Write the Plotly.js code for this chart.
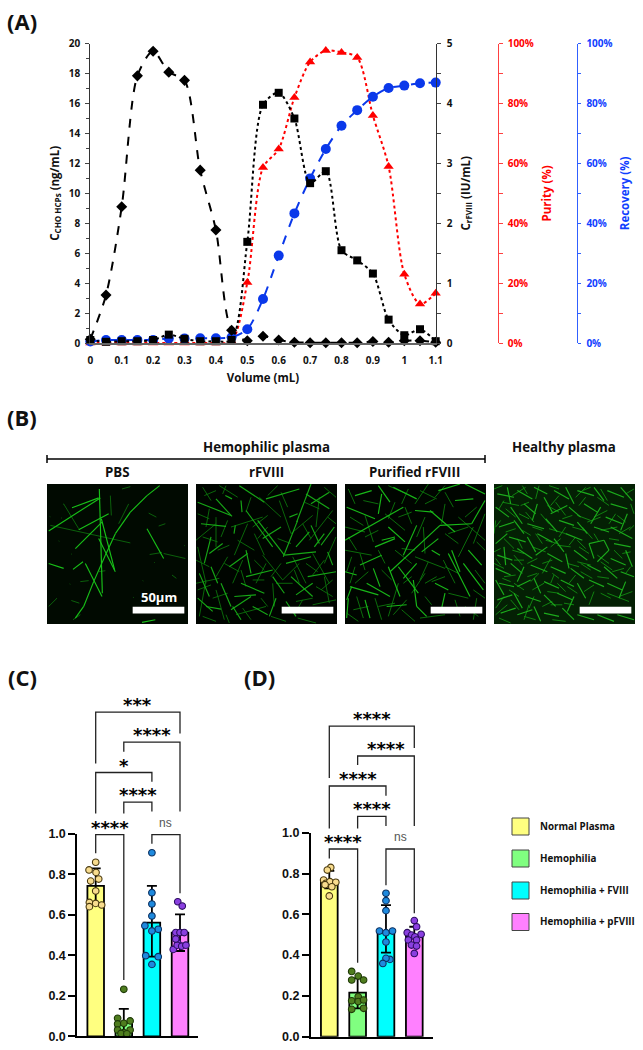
<!DOCTYPE html>
<html><head><meta charset="utf-8">
<script src="https://cdn.plot.ly/plotly-3.0.1.min.js"></script>
<style>html,body{margin:0;padding:0;background:#fff}#c{width:643px;height:1050px}</style>
</head><body><div id="c"></div>
<script>
// ---------- Panel A data ----------
const volume=[0,0.05,0.1,0.15,0.2,0.25,0.3,0.35,0.4,0.45,0.5,0.55,0.6,0.65,0.7,0.75,0.8,0.85,0.9,0.95,1,1.05,1.1];
const volumeTicks=[0,0.1,0.2,0.3,0.4,0.5,0.6,0.7,0.8,0.9,1,1.1];
const hcp=[0.25,3.2,9.1,17.85,19.5,18.1,17.55,11.55,7.55,0.85,0.15,0.45,0.2,0.05,0.02,0.02,0.02,0.02,0.1,0.05,0.15,0.15,0.05];
const rfviii=[0.05,0.02,0.03,0.03,0.05,0.14,0.07,0.03,0.03,0.05,1.69,3.98,4.18,3.75,2.67,2.87,1.55,1.38,1.16,0.39,0.13,0.23,0.03];
const purity=[0,0,0,0,0,0,0,0,0,0.5,20.2,58.6,64.8,82,93.9,97.7,97.1,95.4,76,59,23,13,16.6];
const recovery=[0.5,1,1,1,1,1.5,1.5,1.6,1.6,1.9,4.6,14.7,29.2,43.3,55,64.8,72.6,77.8,82.3,85.2,86,86.8,87];

// ---------- Panels C / D data ----------
const groups=['Normal Plasma','Hemophilia','Hemophilia + FVIII','Hemophilia + pFVIII'];
const barColors=['#ffff80','#80ff80','#00ffff','#ff80ff'];
const dotColors=['#f8dc8e','#4f7d1f','#1f8ade','#8a3fe0'];
const dotLines=['#4a3a10','#1f3a08','#0c3060','#2c0e60'];
const cMeans=[0.742,0.067,0.561,0.511], cUp=[0.087,0.068,0.181,0.091], cDn=[0.091,0.067,0.168,0.09];
const dMeans=[0.765,0.216,0.51,0.493], dUp=[0.048,0.07,0.135,0.046], dDn=[0.038,0.077,0.098,0.044];
const cVals=[
 [0.859,0.821,0.809,0.766,0.776,0.717,0.661,0.640,0.656,0.648],
 [0.232,0.089,0.076,0.061,0.064,0.031,0.018,0.031,0.014,0.012],
 [0.906,0.709,0.653,0.594,0.546,0.528,0.398,0.393,0.355,0.52],
 [0.664,0.643,0.512,0.512,0.512,0.46,0.429,0.45,0.445,0.45,0.48]];
const cOffs=[
 [0,-0.237,0.012,-0.178,0.107,0,-0.225,-0.225,0,0.213],
 [0,-0.22,0.225,-0.22,0,-0.22,0,0.225,-0.1,0.11],
 [0,0,0,0,-0.25,0.225,-0.22,0.225,0,0],
 [-0.08,0.08,-0.15,0,0.15,-0.08,-0.24,-0.1,0.06,0.21,-0.15]];
const dVals=[
 [0.83,0.817,0.768,0.752,0.76,0.757,0.745,0.735,0.69],
 [0.32,0.297,0.278,0.278,0.196,0.176,0.172,0.18,0.134,0.139],
 [0.703,0.667,0.618,0.518,0.51,0.518,0.464,0.379,0.384,0.359],
 [0.569,0.539,0.51,0.498,0.502,0.49,0.474,0.474,0.449,0.444,0.408]];
const dOffs=[
 [0.05,-0.07,-0.2,-0.12,0.02,0.23,-0.15,0.09,0],
 [-0.21,0.02,-0.21,0.21,0.02,-0.21,0.02,0.21,-0.21,0.21],
 [0,0,0,-0.23,0,0.23,0,0.14,0,-0.11],
 [0,0.08,-0.25,-0.1,0.24,0.02,-0.21,0.08,-0.1,0.08,0]];
// [from group, to group, bracket level, left leg end, right leg end, label]
const cBrackets=[
 [0,3,1.6,1.347,1.495,'***'],[1,3,1.452,1.405,1.109,'****'],[0,2,1.302,1.1,1.257,'*'],
 [1,2,1.156,1.1,1.109,'****'],[0,1,0.995,0.903,0.278,'****'],[2,3,0.995,0.95,0.706,'ns']];
const dBrackets=[
 [0,3,1.522,1.268,1.415,'****'],[1,3,1.376,1.332,1.033,'****'],[0,2,1.229,1.02,1.181,'****'],
 [1,2,1.08,1.02,1.033,'****'],[0,1,0.92,0.874,0.362,'****'],[2,3,0.92,0.743,0.605,'ns']];

// ---------- Panel B fibres ----------
const panelTitles=['PBS','rFVIII','Purified rFVIII'];
const pbsBright=[[338,5,300,35],[300,35,250,85],[250,85,205,150],[205,150,175,215],[175,215,140,295],[140,295,110,370],[110,370,85,405],
 [157,15,166,330],[5,142,160,42],[95,138,185,90],[85,195,165,115],[155,165,205,265],[115,240,165,340],[300,135,350,225],[5,240,50,255],[78,258,108,235],[75,72,155,42],[285,418,325,410],[163,105,203,260]];
const pbsDim=[[10,125,250,178],[305,88,328,100],[335,127,355,120],[308,213,345,207],[73,352,97,360],[5,370,30,345],[78,410,100,395],[190,35,193,95],[225,15,250,8],[215,120,245,60],[50,60,95,135],[100,295,125,292],[155,265,175,262],[350,210,415,225],[375,275,388,285],
 [8,98,10,99],[42,102,44,103],[72,211,74,212],[35,172,37,173],[48,60,50,61],[258,342,260,343],[287,292,289,293],[322,237,324,238],[412,186,414,187],[68,302,70,303]];
const rfBright=[[5,55,105,95],[60,45,108,98],[88,35,108,45],[130,5,205,55],[210,45,310,15],[135,50,138,85],[118,125,114,150],[15,120,90,128],[150,80,230,190],[185,110,265,215],[305,110,262,220],[345,0,302,115],[200,165,255,130],[340,145,300,190],[265,215,360,205],[270,240,345,220],[150,200,165,270],[100,250,155,210],[135,300,205,330],[150,280,230,260],[45,160,25,240],[80,180,40,210],[115,340,180,335],[105,380,165,340],[30,370,75,378],[5,345,50,385],[230,280,265,330],[240,345,220,400],[170,370,215,395],[10,270,40,340],[45,250,65,300],[75,300,105,370],[280,100,305,90],[345,125,370,180],[385,150,355,190],[375,185,415,130],[345,60,400,25],[330,30,400,75],[395,205,410,245],[285,280,350,340],[335,280,420,265],[300,335,350,300],[110,370,135,410],[270,355,300,400]];
const rfDim=[[0,170,60,120],[60,100,60,190],[25,35,60,20],[90,5,80,30],[105,130,200,100],[250,50,285,150],[190,40,255,100],[175,150,205,215],[5,190,30,300],[0,300,70,285],[30,290,10,400],[95,220,60,280],[200,215,260,290],[210,240,180,300],[290,220,330,300],[350,210,400,300],[230,300,235,370],[285,150,350,95],[370,40,360,130],[410,80,340,170],[385,280,400,360],[60,320,85,410],[120,395,210,370],[300,355,350,345],[155,120,115,215],[215,95,170,130],[420,160,385,240],[310,240,260,290],[140,230,110,300],
 [20,10,45,50],[70,5,125,40],[165,40,150,85],[245,5,215,35],[255,25,275,70],[325,55,370,75],[385,10,420,40],[395,100,420,120],[5,90,40,105],[40,75,30,130],[95,110,75,160],[125,170,175,200],[215,130,185,165],[245,165,285,180],[320,120,345,165],[20,160,65,175],[65,200,100,185],[0,230,40,250],[85,240,130,265],[175,230,205,260],[255,240,225,280],[330,240,365,265],[385,230,350,275],[410,290,375,320],[5,320,45,305],[50,345,95,330],[135,260,150,310],[170,290,205,290],[240,300,290,300],[295,260,310,300],[360,310,410,340],[320,350,295,395],[350,365,420,350],[195,345,215,370],[140,375,165,410],[20,400,60,415],[90,395,100,420],[225,400,270,415],[305,405,360,420]];
const puBright=[[0,170,175,70],[210,80,265,85],[215,125,175,215],[420,50,380,120],[380,120,285,125],[285,125,135,265],[255,80,330,145],[160,250,220,330],[215,240,175,285],[5,70,90,105],[90,190,150,165],[45,245,110,215],[15,310,100,335],[0,265,35,275],[100,5,135,55],[145,10,215,45],[30,35,80,20],[110,30,100,90],[320,200,345,265],[370,200,410,245],[270,300,310,320],[300,330,290,375],[130,250,165,340],[65,300,135,340],[10,345,5,405],[20,310,5,350],[60,350,75,405],[205,290,215,370],[215,370,245,400],[280,20,345,0],[130,130,180,175],[110,170,150,160],[330,50,385,45],[360,0,420,30],[355,240,415,320],[310,210,375,340],[125,370,185,365],[260,200,285,215],[230,205,280,165],[85,255,105,310]];
const puDim=[[0,130,60,145],[60,95,85,175],[0,200,80,215],[45,210,60,260],[120,90,180,140],[180,70,200,120],[300,60,290,120],[340,100,420,170],[250,0,210,60],[385,130,340,220],[235,130,240,210],[295,230,330,300],[100,370,150,360],[240,270,200,330],[160,300,130,400],[25,380,70,370],[390,260,420,300],[360,370,400,400],[300,280,260,295],[30,250,15,300],[170,380,210,415],[150,200,200,240],[210,220,300,255],[310,150,370,130],[420,90,385,180],
 [10,15,30,60],[55,50,100,60],[150,55,130,105],[190,15,170,60],[225,20,275,45],[300,25,325,70],[395,70,360,100],[15,100,55,125],[60,160,100,140],[160,100,200,85],[240,100,215,160],[300,150,340,180],[395,175,420,200],[10,160,35,200],[100,200,120,240],[170,195,210,200],[250,235,225,290],[340,270,300,250],[385,320,420,345],[20,220,5,265],[70,265,30,300],[110,260,140,290],[175,300,200,280],[240,300,275,280],[310,330,370,345],[330,350,345,400],[35,340,55,405],[90,345,110,410],[185,350,145,395],[240,340,260,365],[395,345,385,410],[5,390,40,415],[225,405,300,395],[130,5,185,30],[300,5,270,40],[270,45,240,60]];
const hlBright=[[10,30,60,40],[40,10,50,60],[70,20,115,45],[120,10,160,30],[150,40,175,85],[180,20,225,45],[215,10,240,60],[250,20,300,35],[300,10,330,50],[340,20,390,40],[380,10,415,50],[350,60,400,75],
 [5,70,45,100],[50,70,85,120],[90,60,125,90],[130,60,115,110],[170,90,220,65],[225,70,260,100],[270,60,310,85],[320,70,290,120],[335,100,385,120],[400,90,380,140],
 [15,130,60,115],[60,110,90,150],[100,120,150,135],[155,105,190,145],[195,110,240,125],[250,115,280,150],[300,130,345,145],[350,130,415,165],
 [5,180,40,150],[45,160,95,175],[100,160,125,205],[130,150,175,175],[180,165,210,205],[215,150,265,170],[285,180,330,170],[330,170,345,200],[345,200,310,235],[285,180,300,225],[360,180,410,190],
 [10,215,55,230],[30,190,35,245],[70,195,115,225],[125,215,160,190],[160,210,205,235],[215,210,225,255],[240,200,280,230],[350,225,395,245],[395,200,415,250],
 [5,255,50,275],[50,240,85,270],[90,250,70,295],[110,245,160,265],[170,250,215,270],[230,255,270,285],[280,245,320,265],[330,250,370,285],[380,265,420,280],
 [15,300,60,310],[5,290,30,335],[70,310,110,290],[120,285,140,330],[150,295,195,315],[200,290,240,310],[250,300,275,345],[285,290,330,310],[340,300,385,320],[395,295,375,345],
 [10,350,55,335],[60,330,85,375],[95,340,140,355],[150,335,185,370],[190,330,235,350],[240,340,220,385],[20,390,65,375],[70,395,115,380],[120,370,140,415],[150,390,195,400],[205,375,240,410],[250,395,300,410],[310,395,360,415],[370,395,420,410]];
const hlDim=[[25,55,75,65],[55,35,95,10],[125,45,135,5],[185,55,215,95],[245,40,275,10],[340,50,320,15],[395,30,420,15],[20,110,5,130],[75,90,105,105],[140,90,165,120],[235,95,205,105],[300,100,340,80],[365,90,345,120],[30,165,60,195],[85,140,110,155],[165,135,215,150],[265,130,295,165],[375,150,410,130],[60,215,85,245],[130,225,100,240],[190,185,230,190],[250,170,275,195],[360,200,385,225],[20,245,5,225],[145,240,175,230],[250,235,290,245],[310,215,345,240],[25,285,50,295],[100,280,130,270],[180,275,170,300],[260,265,295,285],[355,265,390,255],[45,320,75,340],[160,325,195,330],[220,310,250,330],[300,325,285,365],[340,330,405,355],[40,365,5,395],[105,365,90,410],[170,365,205,365],
 [0,15,25,5],[85,5,100,30],[165,5,195,15],[275,40,255,65],[310,40,345,65],[410,60,420,90],[30,50,15,75],[105,55,80,65],[195,35,170,65],[290,10,265,20],[65,100,35,75],[120,115,95,85],[160,65,195,85],[250,95,290,110],[370,95,395,115],[5,110,0,150],[65,135,35,145],[145,140,115,130],[215,130,195,160],[235,130,270,140],[280,115,320,100],[320,140,370,130],[405,140,420,125],[70,165,85,195],[145,180,125,150],[190,180,155,170],[225,185,245,160],[300,150,315,175],[375,170,345,165],[0,205,20,195],[55,200,90,210],[115,190,155,205],[170,190,200,165],[255,190,285,210],[385,210,410,205],[320,235,355,260],[0,240,30,255],[90,230,60,230],[170,225,145,270],[220,240,255,250],[290,260,260,240],[410,250,395,270],[30,280,65,275],[135,270,110,295],[195,285,175,270],[245,275,225,300],[345,285,310,280],[60,300,90,320],[115,320,150,300],[215,325,190,300],[270,325,300,305],[320,330,350,345],[375,340,415,325],[30,340,5,375],[75,380,50,350],[120,340,105,375],[175,355,145,370],[210,360,240,365],[15,405,50,420],[90,400,125,410],[175,410,215,415]];
const scaleBar=[257,412,371,391];

// ---------- helpers ----------
const W=643,H=1050;
const dx=(a,b)=>[a/W,b/W];
const dy=(top,bot)=>[1-bot/H,1-top/H];
const px=x=>x/W, py=y=>1-y/H;
const F='"Open Sans", "Noto Sans", sans-serif', AR='"Liberation Sans", Arial, sans-serif';
const traces=[],shapes=[],ann=[];
function segs(list){const x=[],y=[];list.forEach(s=>{x.push(s[0],s[2],null);y.push(s[1],s[3],null);});return {x,y};}

// ---------- Panel A ----------
function lineTrace(y,ya,col,dash,sym,size,name){
 traces.push({type:'scatter',mode:'lines+markers',name,x:volume,y,xaxis:'x',yaxis:ya,cliponaxis:false,
  line:{color:col,dash,width:2,shape:'spline',smoothing:0.8},marker:{symbol:sym,size,color:col},hoverinfo:'skip'});
}
lineTrace(purity,'y','#ff0000','dot','triangle-up',9,'Purity');
lineTrace(recovery,'y2','#0a38ea','dash','circle',10,'Recovery');
lineTrace(hcp,'y3','#000','dash','diamond',8.5,'CHO HCPs');
lineTrace(rfviii,'y4','#000','dot','square',8,'rFVIII');
const tfA={family:F,size:10,color:'#111',weight:700};
const layout={width:W,height:H,margin:{l:0,r:0,t:0,b:0,pad:0},paper_bgcolor:'#fff',plot_bgcolor:'rgba(0,0,0,0)',showlegend:false,font:{family:F,color:'#111'},
 xaxis:{domain:dx(90.3,435.7),range:[0,1.1],anchor:'y',tickvals:volumeTicks,ticktext:volumeTicks.map(String),ticks:'',ticklabelstandoff:7,tickfont:tfA,showgrid:false,zeroline:false,showline:true,linecolor:'#666',linewidth:1.5,
  title:{text:'Volume (mL)',standoff:8,font:{family:F,size:11.5,weight:700,color:'#111'}}},
 yaxis:{domain:dy(43.7,343),range:[0,100],anchor:'free',position:498/W,side:'right',tickvals:[0,20,40,60,80,100],ticktext:['0%','20%','40%','60%','80%','100%'],ticks:'outside',ticklen:3.5,tickwidth:1,tickcolor:'#ff4040',ticklabelstandoff:3,minor:{dtick:10,ticks:'outside',ticklen:3.5,tickcolor:'#ff4040',tickwidth:1},
  showgrid:false,zeroline:false,showline:true,linecolor:'#ff4040',linewidth:1.2,tickfont:{family:F,size:10,color:'#ff0000',weight:700},
  title:{text:'Purity (%)',standoff:10,font:{family:F,size:11.5,weight:700,color:'#ff0000'}}},
 yaxis2:{domain:dy(43.7,343),range:[0,100],overlaying:'y',anchor:'free',position:576.7/W,side:'right',tickvals:[0,20,40,60,80,100],ticktext:['0%','20%','40%','60%','80%','100%'],ticks:'outside',ticklen:3.5,tickwidth:1,tickcolor:'#3060ff',ticklabelstandoff:3,minor:{dtick:10,ticks:'outside',ticklen:3.5,tickcolor:'#3060ff',tickwidth:1},
  showgrid:false,zeroline:false,showline:true,linecolor:'#3060ff',linewidth:1.2,tickfont:{family:F,size:10,color:'#1040ff',weight:700},
  title:{text:'Recovery (%)',standoff:9,font:{family:F,size:11.5,weight:700,color:'#1040ff'}}},
 yaxis3:{domain:dy(43.7,343),range:[0,20],overlaying:'y',anchor:'x',side:'left',dtick:2,ticks:'outside',ticklen:3.5,tickwidth:1,tickcolor:'#444',ticklabelstandoff:3,minor:{dtick:1,ticks:'outside',ticklen:2.5,tickcolor:'#444',tickwidth:1},
  showgrid:false,zeroline:false,showline:true,linecolor:'#333',linewidth:1.5,tickfont:tfA,
  title:{text:'C<sub>CHO HCPs</sub> (ng/mL)',standoff:7,font:{family:F,size:11.5,weight:700,color:'#111'}}},
 yaxis4:{domain:dy(43.7,343),range:[0,5],overlaying:'y',anchor:'x',side:'right',dtick:1,ticks:'outside',ticklen:3.5,tickwidth:1,tickcolor:'#444',ticklabelstandoff:4,minor:{dtick:0.5,ticks:'outside',ticklen:3.5,tickcolor:'#444',tickwidth:1},
  showgrid:false,zeroline:false,showline:true,linecolor:'#333',linewidth:1.5,tickfont:tfA,
  title:{text:'C<sub>rFVIII</sub> (IU/mL)',standoff:10,font:{family:F,size:11.5,weight:700,color:'#111'}}},
 shapes,annotations:ann};

// ---------- Panels C, D ----------
function barPanel(xa,ya,yb,xl,xr,xc0,xc3,y0,y1,means,up,dn,vals,offs,brackets){
 const xn=xa==='x2'?'xaxis2':'xaxis3', yn='yaxis'+ya.slice(1), bn='yaxis'+yb.slice(1);
 const step=(xc3-xc0)/3, idx=[0,1,2,3];
 const topVal=1.75, hScale=(y0-y1);
 layout[xn]={domain:dx(xl,xr),range:[(xl-xc0)/step,(xr-xc0)/step],anchor:ya,tickvals:[],showgrid:false,zeroline:false,showline:true,linecolor:'#000',linewidth:2,ticks:''};
 layout[yn]={domain:dy(y1,y0),range:[0,1],anchor:xa,tickvals:[0,0.2,0.4,0.6,0.8,1],ticktext:['0.0','0.2','0.4','0.6','0.8','1.0'],ticks:'outside',ticklen:7,tickwidth:2,tickcolor:'#000',showgrid:false,zeroline:false,showline:true,linecolor:'#000',linewidth:2,tickfont:{family:AR,size:12.5,weight:700,color:'#111'}};
 layout[bn]={domain:dy(y0-topVal*hScale,y0),range:[0,topVal],anchor:xa,visible:false,fixedrange:true};
 traces.push({type:'bar',x:idx,y:means,xaxis:xa,yaxis:ya,width:0.59,marker:{color:barColors,line:{color:'#000',width:1.8}},
  error_y:{type:'data',symmetric:false,array:up,arrayminus:dn,color:'#000',thickness:1.8,width:5},hoverinfo:'skip'});
 idx.forEach(i=>traces.push({type:'scatter',mode:'markers',x:vals[i].map((_,k)=>i+offs[i][k]),y:vals[i],xaxis:xa,yaxis:ya,cliponaxis:false,
  marker:{size:6.6,color:dotColors[i],line:{color:dotLines[i],width:1.1}},hoverinfo:'skip'}));
 brackets.forEach(b=>{
  traces.push({type:'scatter',mode:'lines',x:[b[0],b[0],b[1],b[1]],y:[b[3],b[2],b[2],b[4]],xaxis:xa,yaxis:yb,cliponaxis:false,line:{color:'#222',width:1.3},hoverinfo:'skip'});
  const ns=b[5]==='ns';
  ann.push({xref:xa,yref:yb,x:(b[0]+b[1])/2,y:b[2],text:b[5],showarrow:false,yanchor:'bottom',yshift:ns?3:-5,
   font:ns?{family:AR,size:12,color:'#555'}:{family:'"DejaVu Sans"',size:18,color:'#000',weight:700}});
 });
}
barPanel('x2','y5','y6',77.3,198,95.7,180,1036.3,833.7,cMeans,cUp,cDn,cVals,cOffs,cBrackets);
barPanel('x3','y7','y8',311,433,329.3,414.3,1036.7,832.7,dMeans,dUp,dDn,dVals,dOffs,dBrackets);

// ---------- Panel B ----------
const panelX=[47,196,345,494];
const fibres=[[pbsDim,pbsBright],[rfDim,rfBright],[puDim,puBright],[hlDim,hlBright]];
const panelBg=['#010a01','#000500','#000500','#042004'];
const dimCol=['#0c6a0c','#0b720b','#0c780c','#128c12'], brightCol=['#18c018','#16a816','#18b818','#1cab1c'];
fibres.forEach((f,i)=>{
 const xa='xaxis'+(4+i), ya='yaxis'+(9+i), xs='x'+(4+i), ys='y'+(9+i);
 layout[xa]={domain:dx(panelX[i],panelX[i]+141),range:[0,423],anchor:ys,visible:false,fixedrange:true};
 layout[ya]={domain:dy(484,624),range:[423,0],anchor:xs,visible:false,fixedrange:true};
 shapes.push({type:'rect',layer:'below',xref:xs,yref:ys,x0:0,x1:423,y0:0,y1:423,fillcolor:panelBg[i],line:{width:0}});
 traces.push(Object.assign({type:'scatter',mode:'lines',xaxis:xs,yaxis:ys,line:{color:dimCol[i],width:0.9},hoverinfo:'skip'},segs(f[0])));
 traces.push(Object.assign({type:'scatter',mode:'lines',xaxis:xs,yaxis:ys,line:{color:brightCol[i],width:1.15},hoverinfo:'skip'},segs(f[1])));
 shapes.push({type:'rect',layer:'above',xref:xs,yref:ys,x0:scaleBar[0],x1:scaleBar[1],y0:scaleBar[2],y1:scaleBar[3],fillcolor:'#fff',line:{width:0}});
});
function text(x,y,t,size,opts){ann.push(Object.assign({xref:'paper',yref:'paper',x:px(x),y:py(y),text:t,showarrow:false,xanchor:'center',yanchor:'middle',
 font:{family:F,size,color:'#111',weight:700}},opts||{}));}
text(266,447,'Hemophilic plasma',13.3);
text(564,447,'Healthy plasma',13.3);
panelTitles.forEach((t,i)=>text(panelX[i]+70,472,t,13.3));
text(159,597,'50μm',13,{font:{family:F,size:13,color:'#fff',weight:700}});
[[47,485,459,459],[47,47,455,463],[485,485,455,463]].forEach(s=>shapes.push({type:'line',xref:'paper',yref:'paper',x0:px(s[0]),x1:px(s[1]),y0:py(s[2]),y1:py(s[3]),line:{color:'#000',width:1.5}}));

// panel letters
text(5,21,'(A)',22,{xanchor:'left'});
text(5,417,'(B)',22,{xanchor:'left'});
text(6,677,'(C)',22,{xanchor:'left'});
text(242,677,'(D)',22,{xanchor:'left'});

// legend
const legY=[818,850,882,913.5];
groups.forEach((g,i)=>{
 shapes.push({type:'rect',xref:'paper',yref:'paper',x0:px(512),x1:px(529),y0:py(legY[i]),y1:py(legY[i]+17),fillcolor:barColors[i],line:{color:'#444',width:1}});
 text(538,legY[i]+8.5,g,9.8,{xanchor:'left'});
});

Plotly.newPlot('c',traces,layout,{displayModeBar:false,staticPlot:true});
</script></body></html>
